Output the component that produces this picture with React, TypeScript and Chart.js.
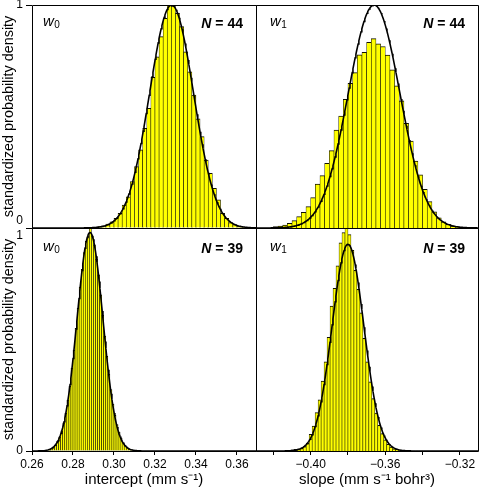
import React, { useEffect, useRef } from 'react';
import { Chart, registerables } from 'chart.js';
Chart.register(...registerables);

const FONT = "'Liberation Sans', Arial, Helvetica, sans-serif";

// ---- axis ticks ----
const interceptTicks = [0.26, 0.28, 0.3, 0.32, 0.34, 0.36];
const interceptTickLabels = ['0.26', '0.28', '0.30', '0.32', '0.34', '0.36'];
const slopeTicks = [-0.42, -0.4, -0.38, -0.36, -0.34, -0.32];
const slopeTickLabels = ['', '\u22120.40', '', '\u22120.36', '', '\u22120.32'];
const yTicks = [0, 1];
const interceptRange = [0.26, 0.3693];
const slopeRange = [-0.4293, -0.3103];

// ---- top-left: w0, N = 44 ----
const tlBinStart = 0.29;
const tlBinWidth = 0.002;
const tlHeights = [
  0.004, 0.006, 0.01, 0.018, 0.028, 0.043, 0.066, 0.103, 0.14, 0.208, 0.275, 0.35,
  0.447, 0.537, 0.676, 0.768, 0.858, 0.94, 1.0, 0.995, 0.963, 0.903, 0.79, 0.7,
  0.596, 0.49, 0.41, 0.305, 0.245, 0.178, 0.126, 0.066, 0.043, 0.024, 0.015, 0.007,
  0.004, 0.002,
];
const tlFit = { mean: 0.3281, sd: 0.0107, peak: 1.0 };

// ---- top-right: w1, N = 44 ----
const trBinStart = -0.42;
const trBinWidth = 0.0025;
const trHeights = [
  0.006, 0.009, 0.013, 0.021, 0.033, 0.051, 0.07, 0.096, 0.136, 0.197, 0.235, 0.29,
  0.347, 0.439, 0.502, 0.577, 0.649, 0.697, 0.776, 0.788, 0.833, 0.849, 0.826, 0.814,
  0.775, 0.709, 0.637, 0.57, 0.469, 0.39, 0.3, 0.238, 0.173, 0.118, 0.073, 0.046,
  0.028, 0.016, 0.009, 0.004, 0.002,
];
const trFit = { mean: -0.366, sd: 0.0138, peak: 1.0 };

// ---- bottom-left: w0, N = 39 ----
const blBinStart = 0.268;
const blBinWidth = 0.001;
const blHeights = [
  0.007, 0.011, 0.018, 0.028, 0.044, 0.063, 0.09, 0.126, 0.17, 0.228, 0.29, 0.372,
  0.452, 0.55, 0.64, 0.735, 0.815, 0.89, 0.94, 0.965, 1.03, 0.965, 0.925, 0.86,
  0.79, 0.7, 0.61, 0.515, 0.425, 0.345, 0.275, 0.21, 0.16, 0.118, 0.085, 0.058,
  0.038, 0.024, 0.015, 0.009, 0.006,
];
const blFit = { mean: 0.2883, sd: 0.0063, peak: 0.98 };

// ---- bottom-right: w1, N = 39 ----
const brBinStart = -0.412;
const brBinWidth = 0.0016;
const brHeights = [
  0.003, 0.005, 0.007, 0.01, 0.012, 0.02, 0.035, 0.075, 0.112, 0.172, 0.23, 0.314,
  0.4, 0.51, 0.65, 0.73, 0.83, 0.934, 0.98, 1.01, 0.97, 0.9, 0.81, 0.725, 0.62,
  0.505, 0.4, 0.31, 0.235, 0.17, 0.115, 0.078, 0.05, 0.03, 0.018, 0.01, 0.005, 0.002,
];
const brFit = { mean: -0.38, sd: 0.0085, peak: 0.927 };

const yTitle = 'standardized probability density';
const interceptTitle = 'intercept (mm s\u207B\u00B9)';
const slopeTitle = 'slope (mm s\u207B\u00B9 bohr\u00B3)';

const panelLabelsPlugin = {
  id: 'panelLabels',
  afterDraw(chart: any) {
    const o = chart.options.plugins.panelLabels;
    const { ctx, chartArea } = chart;
    const { left, right, top, bottom } = chartArea;
    ctx.save();
    ctx.strokeStyle = '#000';
    ctx.lineWidth = 1;
    const L = Math.round(left) + 0.5;
    const R = Math.round(right) + 0.5;
    const T = Math.round(top) + 0.5;
    const B = Math.round(bottom) + 0.5;
    ctx.beginPath();
    ctx.moveTo(L, T);
    ctx.lineTo(R, T);
    ctx.lineTo(R, B);
    ctx.lineTo(L, B);
    ctx.closePath();
    ctx.stroke();
    ctx.fillStyle = '#000';
    ctx.textAlign = 'left';
    ctx.textBaseline = 'alphabetic';
    ctx.font = `italic 15px ${FONT}`;
    const wx = left + o.wx;
    const wy = top + o.wDy;
    ctx.fillText('w', wx, wy);
    const ww = ctx.measureText('w').width;
    ctx.font = `10px ${FONT}`;
    ctx.fillText(o.sub, wx + ww + 0.5, wy + 2);
    ctx.font = `bold 14px ${FONT}`;
    const rest = ' = ' + o.n;
    const rw = ctx.measureText(rest).width;
    ctx.font = `italic bold 14px ${FONT}`;
    const nw = ctx.measureText('N').width;
    const xr = right - 13;
    const ny = top + o.nDy;
    ctx.fillText('N', xr - rw - nw, ny);
    ctx.font = `bold 14px ${FONT}`;
    ctx.fillText(rest, xr - rw, ny);
    ctx.restore();
  },
};

type PanelProps = {
  left: number; top: number; width: number; height: number;
  pad: { left: number; right: number; top: number; bottom: number };
  binStart: number; binWidth: number; heights: number[];
  fit: { mean: number; sd: number; peak: number };
  xRange: number[]; xTicks: number[]; xLabels: string[];
  showX: boolean; showY: boolean; isTop: boolean;
  xTitle: string; sub: string; n: string; wx: number; wDy: number; nDy: number;
};

function Panel(p: PanelProps) {
  const ref = useRef<HTMLCanvasElement>(null);
  useEffect(() => {
    if (!ref.current) return;
    const bars = p.heights.map((h, i) => ({ x: p.binStart + (i + 0.5) * p.binWidth, y: h }));
    const curve: { x: number; y: number }[] = [];
    const steps = 300;
    for (let i = 0; i <= steps; i++) {
      const x = p.xRange[0] + ((p.xRange[1] - p.xRange[0]) * i) / steps;
      const z = (x - p.fit.mean) / p.fit.sd;
      curve.push({ x, y: p.fit.peak * Math.exp(-0.5 * z * z) });
    }
    const yLabels = p.isTop ? [['0', ''], '1'] : ['0', ['', '1']];
    const zeroPad = (s: any) => {
      s.paddingTop = 0;
      s.paddingBottom = 0;
      s.paddingLeft = 0;
      s.paddingRight = 0;
    };
    const chart = new Chart(ref.current, {
      type: 'bar',
      data: {
        datasets: [
          {
            type: 'line',
            data: curve,
            borderColor: '#000',
            borderWidth: 1.6,
            pointRadius: 0,
            tension: 0,
            order: 0,
          } as any,
          {
            type: 'bar',
            data: bars,
            backgroundColor: '#FFFF00',
            borderColor: '#111100',
            borderWidth: { top: 1, left: 0.6, right: 0.6, bottom: 0 },
            borderSkipped: 'start',
            barPercentage: 1,
            categoryPercentage: 1,
            order: 1,
          } as any,
        ],
      },
      options: {
        responsive: false,
        animation: false,
        events: [],
        layout: { padding: p.pad },
        plugins: {
          legend: { display: false },
          tooltip: { enabled: false },
          panelLabels: { sub: p.sub, n: p.n, wx: p.wx, wDy: p.wDy, nDy: p.nDy },
        } as any,
        scales: {
          x: {
            type: 'linear',
            min: p.xRange[0],
            max: p.xRange[1],
            offset: false,
            display: p.showX,
            afterBuildTicks: (s: any) => {
              s.ticks = p.xTicks.map((v) => ({ value: v }));
            },
            afterFit: (s: any) => {
              if (p.showX) s.height = 42;
              zeroPad(s);
            },
            ticks: {
              autoSkip: false,
              maxRotation: 0,
              padding: 2,
              color: '#000',
              font: { size: 12, family: FONT },
              callback: (_v: any, i: number) => p.xLabels[i],
            },
            grid: {
              display: true,
              drawOnChartArea: false,
              drawTicks: true,
              tickLength: 4,
              color: '#000',
              offset: false,
            },
            border: { display: false },
            title: {
              display: p.showX,
              text: p.xTitle,
              color: '#000',
              font: { size: 15, family: FONT },
              padding: { top: 0, bottom: 4 },
            },
          },
          y: {
            type: 'linear',
            min: 0,
            max: 1,
            display: p.showY,
            afterBuildTicks: (s: any) => {
              s.ticks = yTicks.map((v) => ({ value: v }));
            },
            afterFit: (s: any) => {
              if (p.showY) s.width = 32;
              zeroPad(s);
            },
            ticks: {
              padding: 3,
              color: '#000',
              font: { size: 12, family: FONT },
              callback: (_v: any, i: number) => yLabels[i] as any,
            },
            grid: {
              display: true,
              drawOnChartArea: false,
              drawTicks: true,
              tickLength: 6,
              color: '#000',
            },
            border: { display: false },
            title: {
              display: p.showY,
              text: yTitle,
              color: '#000',
              font: { size: 14.4, family: FONT },
              padding: { top: 0, bottom: 0 },
            },
          },
        },
      } as any,
      plugins: [panelLabelsPlugin],
    });
    return () => chart.destroy();
  }, []);
  return (
    <canvas
      ref={ref}
      width={p.width}
      height={p.height}
      style={{ position: 'absolute', left: p.left, top: p.top, width: p.width, height: p.height }}
    />
  );
}

export default function App() {
  return (
    <div style={{ position: 'absolute', left: 0, top: 0, width: 480, height: 493, background: '#fff', fontFamily: FONT }}>
      <Panel
        left={0} top={0} width={258} height={232}
        pad={{ left: 0, right: 2, top: 5, bottom: 4 }}
        binStart={tlBinStart} binWidth={tlBinWidth} heights={tlHeights} fit={tlFit}
        xRange={interceptRange} xTicks={interceptTicks} xLabels={interceptTickLabels}
        showX={false} showY={true} isTop={true} xTitle=""
        sub="0" n="44" wx={11} wDy={21} nDy={23}
      />
      <Panel
        left={250} top={0} width={230} height={232}
        pad={{ left: 6, right: 2, top: 5, bottom: 4 }}
        binStart={trBinStart} binWidth={trBinWidth} heights={trHeights} fit={trFit}
        xRange={slopeRange} xTicks={slopeTicks} xLabels={slopeTickLabels}
        showX={false} showY={false} isTop={true} xTitle=""
        sub="1" n="44" wx={14} wDy={21} nDy={23}
      />
      <Panel
        left={0} top={224} width={258} height={269}
        pad={{ left: 0, right: 2, top: 4, bottom: 0 }}
        binStart={blBinStart} binWidth={blBinWidth} heights={blHeights} fit={blFit}
        xRange={interceptRange} xTicks={interceptTicks} xLabels={interceptTickLabels}
        showX={true} showY={true} isTop={false} xTitle={interceptTitle}
        sub="0" n="39" wx={11} wDy={23} nDy={25}
      />
      <Panel
        left={250} top={224} width={230} height={269}
        pad={{ left: 6, right: 2, top: 4, bottom: 0 }}
        binStart={brBinStart} binWidth={brBinWidth} heights={brHeights} fit={brFit}
        xRange={slopeRange} xTicks={slopeTicks} xLabels={slopeTickLabels}
        showX={true} showY={false} isTop={false} xTitle={slopeTitle}
        sub="1" n="39" wx={14} wDy={23} nDy={25}
      />
    </div>
  );
}
